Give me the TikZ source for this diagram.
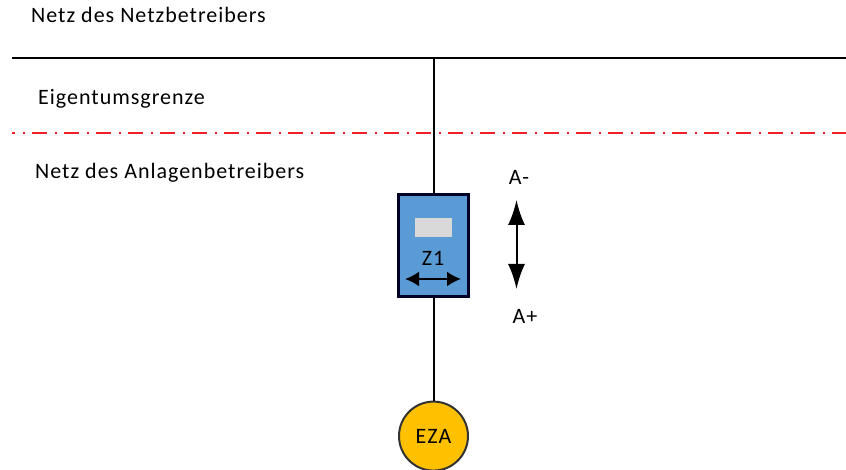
\documentclass[tikz,border=0pt]{standalone}
\usepackage{fontspec}
\setmainfont[LetterSpace=4.5]{Carlito}
\usepackage{xcolor}
\usetikzlibrary{arrows.meta,positioning}
\definecolor{zblue}{HTML}{5B9BD5}
\definecolor{ezagold}{HTML}{FFC000}
\definecolor{dispgray}{HTML}{D9D9D9}
\definecolor{grenzred}{HTML}{F0202A}
\tikzset{%
	label/.style    = {inner sep=0pt, anchor=base west, font=\fontsize{22}{24}\selectfont},
	meter/.style    = {draw=black!85!blue, line width=2.2pt, fill=zblue, minimum width=70pt, minimum height=102pt, inner sep=0pt},
	display/.style  = {fill=dispgray, minimum width=37pt, minimum height=19pt, inner sep=0pt},
	eza/.style      = {draw=black!80, line width=2pt, circle, fill=ezagold, minimum size=69pt, inner sep=0pt, font=\fontsize{22}{24}\selectfont},
	wire/.style     = {line width=2pt},
	bigarrow/.style = {line width=2pt, {Latex[length=25pt,width=17pt]}-{Latex[length=25pt,width=17pt]}},
	smallarrow/.style = {line width=2pt, {Latex[length=14pt,width=15pt]}-{Latex[length=14pt,width=15pt]}},
}
\begin{document}
\begin{tikzpicture}[x=1pt,y=-1pt]
	\useasboundingbox (0,0) rectangle (846,470);
	\node [label] (netz) at (31,23) {Netz des Netzbetreibers};
	\node [label] (grenz) at (38,105) {Eigentumsgrenze};
	\node [label] (anlage) at (35,179) {Netz des Anlagenbetreibers};

	\coordinate (busl) at (12,58);
	\coordinate (busr) at (846,58);
	\coordinate (bust) at (433.5,58);
	\coordinate (redl) at (12,133);
	\coordinate (redr) at (846,133);

	\node [meter] (z1) at (433.5,245.5) {};
	\node [display] (disp) at (433.5,227.5) {};
	\node [inner sep=0pt, font=\fontsize{22}{24}\selectfont] (z1txt) at (433,258) {Z1};
	\coordinate (z1l) at (405,279);
	\coordinate (z1r) at (461,279);
	\node [eza] (anl) [below=103pt of z1] {EZA};

	\coordinate (up) at (516.5,200);
	\coordinate (down) at (516.5,289);
	\node [label, anchor=center] (am) at (519,177) {A-};
	\node [label, anchor=center] (ap) at (525,316) {A+};

	\draw[wire,line width=2.4pt] (busl) -- (busr);
	\draw[wire] (bust) -- (z1);
	\draw[wire] (z1) -- (anl);
	\draw[grenzred,line width=2pt,dash pattern=on 15pt off 8pt on 1.5pt off 7.5pt,dash phase=-20pt] (redl) -- (redr);
	\draw[smallarrow] (z1l) -- (z1r);
	\draw[bigarrow] (up) -- (down);
\end{tikzpicture}
\end{document}
